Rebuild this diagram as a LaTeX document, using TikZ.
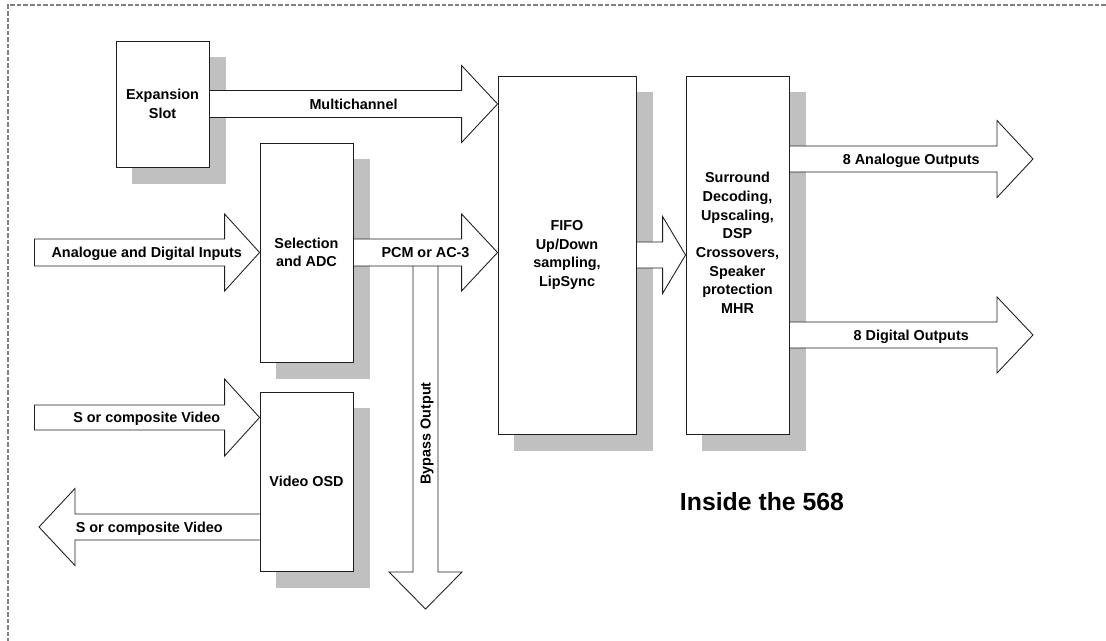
\documentclass[tikz,border=0pt]{standalone}
\usepackage{fontspec}
\setmainfont{Liberation Sans}
\usetikzlibrary{calc}
\pgfdeclarelayer{bg}
\pgfdeclarelayer{mid}
\pgfsetlayers{bg,mid,main}
\definecolor{shadowgray}{RGB}{192,192,192}
\definecolor{framegray}{RGB}{128,128,128}
\definecolor{linecol}{RGB}{30,30,30}
\tikzset{
  blk/.style={draw=linecol, fill=white, line width=0.65pt, inner sep=0pt, align=center,
    font=\fontsize{10.8}{14}\selectfont\bfseries},
  shadowfill/.style={fill=shadowgray},
  barrow/.style={draw=linecol, line width=0.65pt, line join=miter},
  openend/.style={draw=none},
  lbl/.style={inner sep=0pt, font=\fontsize{10.8}{14}\selectfont\bfseries, text height=7.73pt, text depth=0pt},
  frame/.style={draw=framegray, line width=1pt, dash pattern=on 3.4pt off 1.5pt}
}
\newcommand{\boxshadow}[1]{%
  \begin{pgfonlayer}{bg}
    \fill[shadowfill] ($(#1.south west)+(16.5,16.5)$) rectangle ($(#1.north east)+(16.5,16.5)$);
  \end{pgfonlayer}}
% [style of start edge] start, end, shaft half width, head half width, head length (px), label name, label options, label text
\newcommand{\blockarrow}[9][openend]{%
  \begin{pgfonlayer}{mid}
  \path (#2) coordinate (bas) (#3) coordinate (bae);
  \path ($(bae)!#6*0.75pt!(bas)$) coordinate (bab);
  \path ($(bas)!#4*0.75pt!90:(bae)$) coordinate (p1)
        ($(bab)!#4*0.75pt!90:(bae)$) coordinate (p2)
        ($(bab)!#5*0.75pt!90:(bae)$) coordinate (p3)
        ($(bab)!#5*0.75pt!-90:(bae)$) coordinate (p5)
        ($(bab)!#4*0.75pt!-90:(bae)$) coordinate (p6)
        ($(bas)!#4*0.75pt!-90:(bae)$) coordinate (p7);
  \fill[white] (p1) -- (p2) -- (p3) -- (bae) -- (p5) -- (p6) -- (p7) -- cycle;
  \draw[barrow] (p1) -- (p2) -- (p3) -- (bae) -- (p5) -- (p6) -- (p7);
  \path[barrow,#1] (p7) -- (p1);
  \node[lbl,#8] (#7) at ($(bas)!0.5!(bae)$) {#9};
  \end{pgfonlayer}
}
\begin{document}
\begin{tikzpicture}[x=0.75pt, y=-0.75pt]
\useasboundingbox (0,0) rectangle (1106,641);
\draw[frame] (1106,5) -- (8,5) -- (8,641);

% blocks
\node[blk, minimum width=69.75pt, minimum height=94.5pt] (exp) at (162.5,104) {Expansion\\Slot};
\node[blk, minimum width=69.75pt, minimum height=164.25pt] (sel) at (306.5,252.5) {Selection\\and ADC};
\node[blk, minimum width=69.75pt, minimum height=134.25pt] (osd) at (306.5,481.5) {Video OSD};
\node[blk, minimum width=103.5pt, minimum height=268.5pt] (fifo) at (567,255) {FIFO\\Up/Down\\sampling,\\LipSync};
\node[blk, minimum width=77.25pt, minimum height=268.5pt] (sur) at (737.5,255) {Surround\\Decoding,\\Upscaling,\\DSP\\Crossovers,\\Speaker\\protection\\MHR\\\strut};
\boxshadow{exp}
\boxshadow{sel}
\boxshadow{osd}
\boxshadow{fifo}
\boxshadow{sur}

% free ends
\coordinate (ain) at (34,252.5);
\coordinate (vin) at (34,417.5);
\coordinate (vout) at (39,527);
\coordinate (aout) at (1033,159);
\coordinate (dout) at (1033,335);
\coordinate (bypa) at (425.5,266);
\coordinate (bypb) at (425.5,609);

% block arrows
\blockarrow{exp.east}{exp.east -| fifo.west}{13.5}{38.5}{36}{lmulti}{}{Multichannel}
\blockarrow[barrow]{ain}{ain -| sel.west}{13.5}{38.5}{35}{lain}{}{Analogue and Digital Inputs}
\blockarrow{bypa}{bypb}{12.5}{36.5}{37}{lbyp}{rotate=90, xshift=3pt}{Bypass Output}
\blockarrow{sel.east}{sel.east -| fifo.west}{13.5}{38.5}{36}{lpcm}{}{PCM or AC-3}
\blockarrow{fifo.east}{sur.west}{13}{38.5}{23}{lfs}{}{}
\blockarrow{aout -| sur.east}{aout}{13}{38.5}{36}{laout}{}{8 Analogue Outputs}
\blockarrow{dout -| sur.east}{dout}{13}{38}{36}{ldout}{}{8 Digital Outputs}
\blockarrow[barrow]{vin}{vin -| osd.west}{12.5}{38.5}{35}{lvin}{}{S or composite Video}
\blockarrow{vout -| osd.west}{vout}{13}{38.5}{36}{lvout}{}{S or composite Video}

\node[inner sep=0pt, font=\fontsize{18.6}{22}\selectfont\bfseries, text height=13.3pt, text depth=0pt] (title) at (762,502) {Inside the 568};
\end{tikzpicture}
\end{document}
